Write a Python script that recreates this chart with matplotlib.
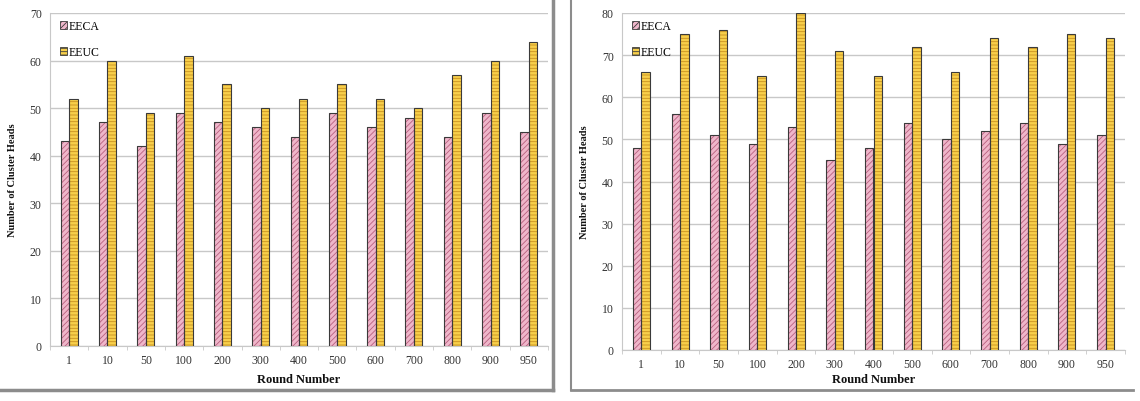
import numpy as np
import matplotlib
matplotlib.use("Agg")
from matplotlib import pyplot as plt
from matplotlib.patches import Patch
from matplotlib.lines import Line2D

# data
rounds = ["1", "10", "50", "100", "200", "300", "400", "500", "600", "700", "800", "900", "950"]

eeca_left = [43, 47, 42, 49, 47, 46, 44, 49, 46, 48, 44, 49, 45]
eeuc_left = [52, 60, 49, 61, 55, 50, 52, 55, 52, 50, 57, 60, 64]

eeca_right = [48, 56, 51, 49, 53, 45, 48, 54, 50, 52, 54, 49, 51]
eeuc_right = [66, 75, 76, 65, 80, 71, 65, 72, 66, 74, 72, 75, 74]

plt.rcParams["font.family"] = ["Liberation Serif", "DejaVu Serif"]
plt.rcParams["hatch.linewidth"] = 0.6

pink = "#efb6ca"
pink_hatch = "#b8607e"
yellow = "#f7cf4a"
yellow_hatch = "#c99020"
edge = "#3a3a3a"
grid_col = "#c8c8c8"
txt = "#333333"

W, H = 1140, 402
fig = plt.figure(figsize=(W / 100, H / 100), dpi=100)


def px_axes(x0, y0, x1, y1):
    return fig.add_axes([x0 / W, 1 - y1 / H, (x1 - x0) / W, (y1 - y0) / H])


def draw(ax, eeca, eeuc, ymax, xpad, xlabpad):
    x = np.arange(len(rounds))
    bw = 0.22
    # fill + hatch, then outline on top
    ax.bar(x - bw / 2, eeca, bw, color=pink, edgecolor=pink_hatch, hatch="//////", linewidth=0, zorder=3)
    ax.bar(x - bw / 2, eeca, bw, fill=False, edgecolor=edge, linewidth=0.8, zorder=4)
    ax.bar(x + bw / 2, eeuc, bw, color=yellow, edgecolor=yellow_hatch, hatch="-----", linewidth=0, zorder=3)
    ax.bar(x + bw / 2, eeuc, bw, fill=False, edgecolor=edge, linewidth=0.8, zorder=4)

    ax.set_xlim(-0.5, len(rounds) - 0.5)
    ax.set_ylim(0, ymax)
    ax.set_yticks(np.arange(0, ymax + 1, 10))
    ax.set_xticks(x)
    ax.set_xticklabels(rounds)
    ax.set_xticks(np.arange(-0.5, len(rounds)), minor=True)
    ax.tick_params(axis="x", which="major", length=0, labelsize=8.5, colors=txt, pad=xpad)
    ax.tick_params(axis="x", which="minor", length=3, color=grid_col, direction="out")
    ax.tick_params(axis="y", length=0, labelsize=8.5, colors=txt, pad=6)

    ax.yaxis.grid(True, color=grid_col, linewidth=1.0, zorder=0)
    ax.set_axisbelow(True)
    for s in ["top", "right"]:
        ax.spines[s].set_visible(False)
    ax.spines["left"].set_color(grid_col)
    ax.spines["bottom"].set_color(grid_col)

    ax.set_ylabel("Number of Cluster Heads", fontsize=7.5, fontweight="bold", color="#111111", labelpad=9)
    ax.set_xlabel("Round Number", fontsize=9, fontweight="bold", color="#111111", labelpad=xlabpad)

    handles = [
        Patch(facecolor=pink, edgecolor=edge, hatch="//////", linewidth=0.6, label="EECA"),
        Patch(facecolor=yellow, edgecolor=edge, hatch="-----", linewidth=0.6, label="EEUC"),
    ]
    ax.legend(handles=handles, loc="upper left", frameon=False, fontsize=8.5,
              handlelength=0.6, handleheight=0.6, handletextpad=0.2,
              labelspacing=1.2, borderaxespad=0.2, bbox_to_anchor=(0.005, 1.0))


ax1 = px_axes(50, 14, 548, 347)
draw(ax1, eeca_left, eeuc_left, 70, 6, 5)

ax2 = px_axes(622, 14, 1125, 351)
draw(ax2, eeca_right, eeuc_right, 80, 6, 2)

# outer panel frames
frame = "#8c8c8c"
fig.add_artist(Line2D([553 / W, 553 / W], [1, 1 - 391 / H], color=frame, linewidth=2.5))
fig.add_artist(Line2D([0, 553 / W], [1 - 391 / H, 1 - 391 / H], color=frame, linewidth=2.5))
fig.add_artist(Line2D([571 / W, 571 / W], [1, 1 - 391 / H], color=frame, linewidth=1.5))
fig.add_artist(Line2D([571 / W, 1133 / W], [1 - 391 / H, 1 - 391 / H], color=frame, linewidth=2.0))

fig.savefig("out.png", dpi=100, facecolor="white")
